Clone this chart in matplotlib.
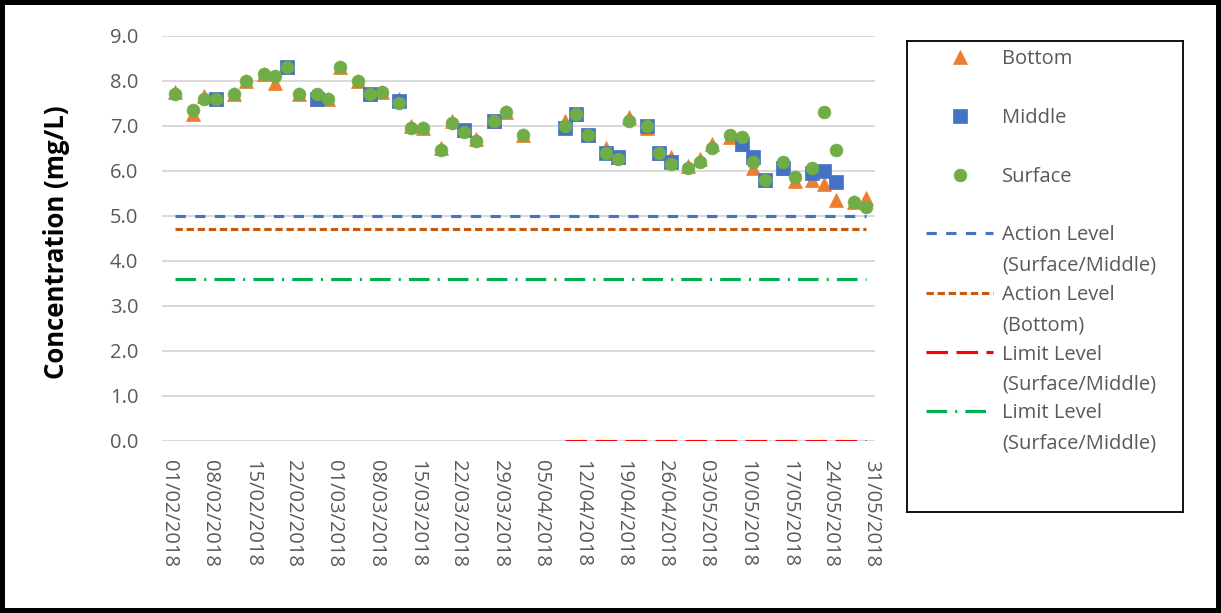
import datetime as dt

import numpy as np
import matplotlib
matplotlib.use("Agg")
import matplotlib.pyplot as plt
import matplotlib.dates as mdates
from matplotlib.lines import Line2D

# dissolved oxygen readings, Feb - May 2018
sample_dates = [
    "02/02/2018", "05/02/2018", "07/02/2018", "09/02/2018", "12/02/2018",
    "14/02/2018", "17/02/2018", "19/02/2018", "21/02/2018", "23/02/2018",
    "26/02/2018", "28/02/2018", "02/03/2018", "05/03/2018", "07/03/2018",
    "09/03/2018", "12/03/2018", "14/03/2018", "16/03/2018", "19/03/2018",
    "21/03/2018", "23/03/2018", "25/03/2018", "28/03/2018", "30/03/2018",
    "02/04/2018", "09/04/2018", "11/04/2018", "13/04/2018", "16/04/2018",
    "18/04/2018", "20/04/2018", "23/04/2018", "25/04/2018", "27/04/2018",
    "30/04/2018", "02/05/2018", "04/05/2018", "07/05/2018", "09/05/2018",
    "11/05/2018", "13/05/2018", "16/05/2018", "18/05/2018", "21/05/2018",
    "23/05/2018", "25/05/2018", "28/05/2018", "30/05/2018",
]
bottom = [
    7.75, 7.25, 7.65, 7.6, 7.7, 8.0, 8.15, 7.95, 8.3, 7.7,
    7.6, 7.6, 8.3, 8.0, 7.7, 7.75, 7.6, 7.0, 6.95, 6.5,
    7.1, 6.9, 6.7, 7.1, 7.3, 6.8, 7.1, 7.25, 6.8, 6.5,
    6.3, 7.2, 6.95, 6.4, 6.3, 6.1, 6.25, 6.6, 6.75, 6.6,
    6.05, 5.8, 6.05, 5.78, 5.8, 5.7, 5.35, 5.3, 5.4,
]
nan = np.nan
middle = [
    nan, nan, nan, 7.6, nan, nan, nan, nan, 8.3, nan,
    7.6, nan, nan, nan, 7.7, nan, 7.55, nan, nan, nan,
    nan, 6.9, nan, 7.1, nan, nan, 6.95, 7.25, 6.8, 6.4,
    6.3, nan, 7.0, 6.4, 6.2, nan, nan, nan, nan, 6.6,
    6.3, 5.8, 6.05, nan, 5.95, 6.0, 5.75, nan, nan,
]
surface = [
    7.7, 7.35, 7.6, 7.6, 7.7, 8.0, 8.15, 8.1, 8.3, 7.7,
    7.7, 7.6, 8.3, 8.0, 7.7, 7.75, 7.5, 6.95, 6.95, 6.45,
    7.05, 6.85, 6.65, 7.1, 7.3, 6.8, 7.0, 7.25, 6.8, 6.4,
    6.25, 7.1, 7.0, 6.4, 6.15, 6.05, 6.2, 6.5, 6.8, 6.75,
    6.2, 5.8, 6.2, 5.85, 6.05, 7.3, 6.45, 5.3, 5.2,
]

# compliance levels (mg/L) and the period each one covers
action_sm = 5.0
action_bottom = 4.7
limit_sm_red = 0.0
limit_sm_green = 3.6
level_span = ["02/02/2018", "30/05/2018"]
red_span = ["09/04/2018", "30/05/2018"]

tick_start = "01/02/2018"
tick_end = "31/05/2018"
y_ticks = [0.0, 1.0, 2.0, 3.0, 4.0, 5.0, 6.0, 7.0, 8.0, 9.0]


def to_date(s):
    return dt.datetime.strptime(s, "%d/%m/%Y")


dates = [to_date(s) for s in sample_dates]
level_x = [to_date(s) for s in level_span]
red_x = [to_date(s) for s in red_span]

plt.rcParams["font.family"] = ["Open Sans", "DejaVu Sans"]
GREY = "#595959"
W, H = 1221, 613

fig = plt.figure(figsize=(W / 100, H / 100), dpi=100)
fig.patch.set_facecolor("white")
fig.patch.set_edgecolor("black")
fig.patch.set_linewidth(7)

ax = fig.add_axes([162 / W, 1 - 440.7 / H, (875 - 162) / W, (440.7 - 35.7) / H])

orange = dict(marker="^", ms=10, color="#ED7D31", ls="none", mec="#ED7D31", mew=0.5)
blue = dict(marker="s", ms=10.5, color="#4472C4", ls="none", mec="#4472C4", mew=0.5)
green = dict(marker="o", ms=9.2, color="#70AD47", ls="none", mec="#70AD47", mew=0.5)
lw = 2.25
blue_dash = dict(color="#4472C4", lw=lw, dashes=(3.3, 3.0))
orange_dash = dict(color="#C55A11", lw=lw, dashes=(2.35, 1.2))
red_dash = dict(color="#FF0000", lw=lw, dashes=(6.9, 2.7))
green_dashdot = dict(color="#00B050", lw=lw, dashes=(6.6, 2.6, 0.65, 2.6))

ax.plot(dates, bottom, **orange)
ax.plot(dates, middle, **blue)
ax.plot(dates, surface, **green)
ax.plot(level_x, [action_sm, action_sm], **blue_dash)
ax.plot(level_x, [action_bottom, action_bottom], **orange_dash)
ax.plot(red_x, [limit_sm_red, limit_sm_red], **red_dash)
ax.plot(level_x, [limit_sm_green, limit_sm_green], **green_dashdot)

t0, t1 = to_date(tick_start), to_date(tick_end)
ax.set_xlim(t0 - dt.timedelta(days=1.2), t1 + dt.timedelta(days=0.6))
ax.set_ylim(0, 9)
ax.set_xticks([t0 + dt.timedelta(days=7 * i) for i in range((t1 - t0).days // 7 + 1)])
ax.xaxis.set_major_formatter(mdates.DateFormatter("%d/%m/%Y"))
ax.set_yticks(y_ticks)
ax.yaxis.set_major_formatter(matplotlib.ticker.FormatStrFormatter("%.1f"))
ax.grid(axis="y", color="#D9D9D9", lw=1.4)
ax.set_axisbelow(True)
for s in ax.spines.values():
    s.set_visible(False)
ax.tick_params(axis="both", length=0, labelsize=14.5, labelcolor=GREY)
ax.tick_params(axis="y", pad=17)
ax.tick_params(axis="x", pad=14)
for lab in ax.get_xticklabels():
    lab.set_rotation(-90)
    lab.set_va("top")
    lab.set_ha("center")

fig.text(56 / W, 1 - 242 / H, "Concentration (mg/L)", rotation=90, fontsize=18.5,
         fontweight="bold", ha="center", va="center", color="black")

# legend box, laid out in pixel units
lg = fig.add_axes([907 / W, 1 - 512 / H, (1183 - 907) / W, (512 - 41) / H])
lg.set_xlim(907, 1183)
lg.set_ylim(512, 41)
lg.set_xticks([])
lg.set_yticks([])
for s in lg.spines.values():
    s.set_color("black")
    s.set_linewidth(1.3)

entries = [
    (orange, ["Bottom"]),
    (blue, ["Middle"]),
    (green, ["Surface"]),
    (blue_dash, ["Action Level", "(Surface/Middle)"]),
    (orange_dash, ["Action Level", "(Bottom)"]),
    (red_dash, ["Limit Level", "(Surface/Middle)"]),
    (green_dashdot, ["Limit Level", "(Surface/Middle)"]),
]
rows = [56.7, 115.7, 175, 233, 293, 352, 411]
for (style, lines), y in zip(entries, rows):
    if "marker" in style:
        lg.add_line(Line2D([960], [y], **style))
    else:
        lg.add_line(Line2D([926, 993], [y, y], **style))
    for k, txt in enumerate(lines):
        lg.text(1002, y + 7.5 + 29.8 * k, txt, fontsize=14.5, color=GREY,
                ha="left", va="baseline")

fig.savefig("out.png", dpi=100)
